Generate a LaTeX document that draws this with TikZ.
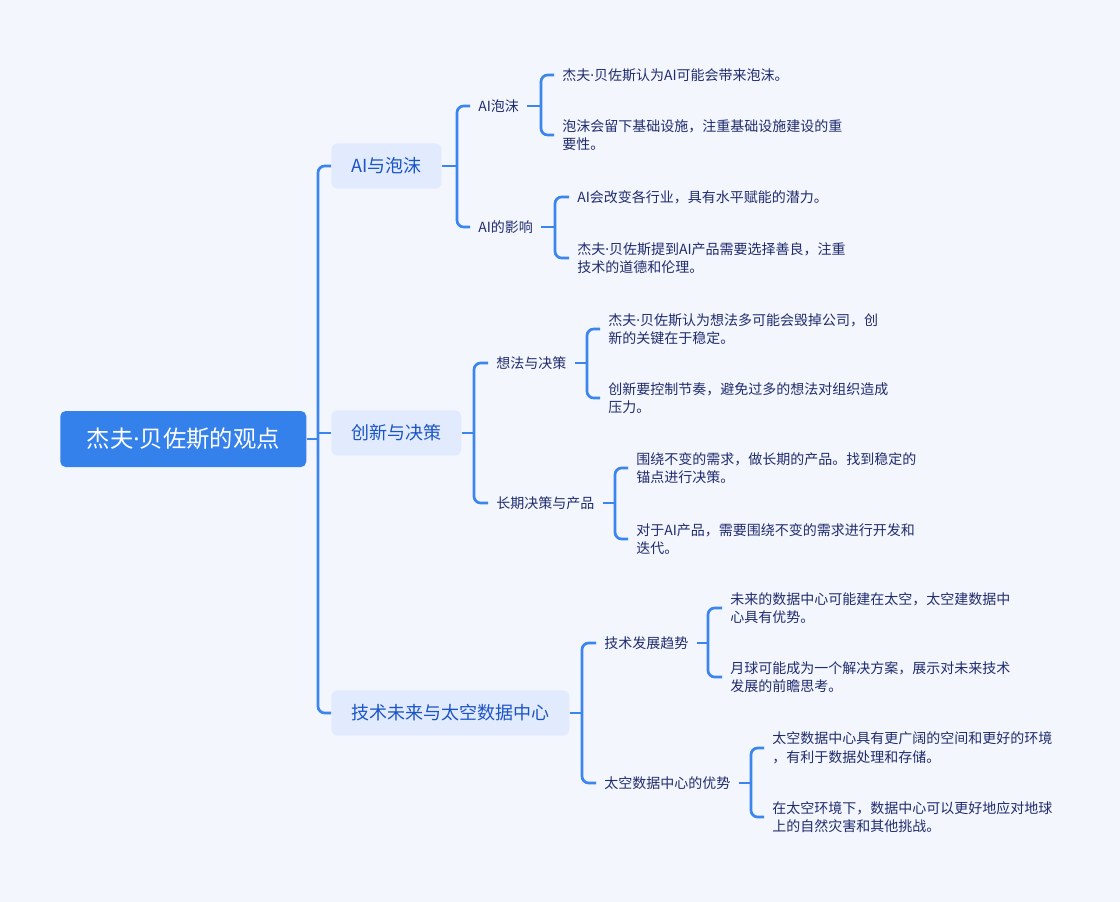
\documentclass[tikz,border=0pt]{standalone}
\usepackage{fontspec}
\setmainfont{Noto Sans CJK SC}
\newfontfamily\latinfont{Noto Sans}
\newcommand{\milieu}{{\latinfont ·}}
\usepackage{tikz}
\usetikzlibrary{positioning}
\usetikzlibrary{calc}
\definecolor{fond}{HTML}{F4F6FD}
\definecolor{bleu}{HTML}{3481EC}
\definecolor{trait}{HTML}{3A86EE}
\definecolor{pale}{HTML}{E2EAFD}
\definecolor{encre}{HTML}{1F2C6E}
\definecolor{titre}{HTML}{1A55C6}
\tikzstyle{racine}=[rectangle,rounded corners=4pt,fill=bleu,text=white,
        anchor=west,minimum height=42pt,minimum width=184.5pt,
        font=\fontsize{17.5}{20}\selectfont]
\tikzstyle{branche}=[rectangle,rounded corners=5pt,fill=pale,text=titre,
        anchor=west,minimum height=34pt,inner xsep=15pt,
        font=\fontsize{13.5}{16}\selectfont]
\tikzstyle{sousbranche}=[anchor=west,text=encre,inner xsep=6pt,
        font=\fontsize{10.5}{13}\selectfont]
\tikzstyle{feuille}=[anchor=west,text=encre,align=left,inner xsep=6pt,
        font=\fontsize{10.5}{13.9}\selectfont]
\tikzstyle{lien}=[draw=trait,line width=2pt,rounded corners=5pt]

\begin{document}
\begin{tikzpicture}[x=0.75pt,y=-0.75pt]
\fill[fond] (0,0) rectangle (1120,902);
\useasboundingbox (0,0) rectangle (1120,902);
\node[racine] (r) at (60,439) {杰夫\milieu 贝佐斯的观点};
\node[branche] (a) at (331,166) {AI与泡沫};
\node[branche] (b) at (331,433) {创新与决策};
\node[branche] (c) at (331,713) {技术未来与太空数据中心};
\node[sousbranche] (a1) at (470,106) {AI泡沫};
\node[sousbranche] (a2) at (470,227) {AI的影响};
\node[sousbranche] (b1) at (488,363) {想法与决策};
\node[sousbranche] (b2) at (488,503) {长期决策与产品};
\node[sousbranche] (c1) at (596,643) {技术发展趋势};
\node[sousbranche] (c2) at (596,783) {太空数据中心的优势};
\node[feuille] (f1) at (554,75) {杰夫\milieu 贝佐斯认为AI可能会带来泡沫。};
\node[feuille] (f2) at (554,135) {泡沫会留下基础设施，注重基础设施建设的重\\要性。};
\node[feuille] (f3) at (569,197) {AI会改变各行业，具有水平赋能的潜力。};
\node[feuille] (f4) at (569,258) {杰夫\milieu 贝佐斯提到AI产品需要选择善良，注重\\技术的道德和伦理。};
\node[feuille] (f5) at (600,329) {杰夫\milieu 贝佐斯认为想法多可能会毁掉公司，创\\新的关键在于稳定。};
\node[feuille] (f6) at (600,398) {创新要控制节奏，避免过多的想法对组织造成\\压力。};
\node[feuille] (f7) at (628,468) {围绕不变的需求，做长期的产品。找到稳定的\\锚点进行决策。};
\node[feuille] (f8) at (628,539) {对于AI产品，需要围绕不变的需求进行开发和\\迭代。};
\node[feuille] (f9) at (722,608) {未来的数据中心可能建在太空，太空建数据中\\心具有优势。};
\node[feuille] (f10) at (722,677) {月球可能成为一个解决方案，展示对未来技术\\发展的前瞻思考。};
\node[feuille] (f11) at (764,748) {太空数据中心具有更广阔的空间和更好的环境\\，有利于数据处理和存储。};
\node[feuille] (f12) at (764,817) {在太空环境下，数据中心可以更好地应对地球\\上的自然灾害和其他挑战。};
%points de jonction
\coordinate (jr) at (318,439);
\coordinate (ja) at (457,166);
\coordinate (jb) at (474,433);
\coordinate (jc) at (582,713);
\coordinate (ja1) at (541,106);
\coordinate (ja2) at (555,227);
\coordinate (jb1) at (587,363);
\coordinate (jb2) at (615,503);
\coordinate (jc1) at (708,643);
\coordinate (jc2) at (751,783);
%liens
\draw[lien] (r.east) -- (jr);
\draw[lien] (a.west) -| (jr) |- (c.west);
\draw[lien] (jr |- b.west) -- (b.west);
\draw[lien] (a.east) -- (ja);
\draw[lien] (a1.west) -| (ja) |- (a2.west);
\draw[lien] (b.east) -- (jb);
\draw[lien] (b1.west) -| (jb) |- (b2.west);
\draw[lien] (c.east) -- (jc);
\draw[lien] (c1.west) -| (jc) |- (c2.west);
\draw[lien] (a1.east) -- (ja1);
\draw[lien] (f1.west) -| (ja1) |- (f2.west);
\draw[lien] (a2.east) -- (ja2);
\draw[lien] (f3.west) -| (ja2) |- (f4.west);
\draw[lien] (b1.east) -- (jb1);
\draw[lien] (f5.west) -| (jb1) |- (f6.west);
\draw[lien] (b2.east) -- (jb2);
\draw[lien] (f7.west) -| (jb2) |- (f8.west);
\draw[lien] (c1.east) -- (jc1);
\draw[lien] (f9.west) -| (jc1) |- (f10.west);
\draw[lien] (c2.east) -- (jc2);
\draw[lien] (f11.west) -| (jc2) |- (f12.west);
\end{tikzpicture}
\end{document}
